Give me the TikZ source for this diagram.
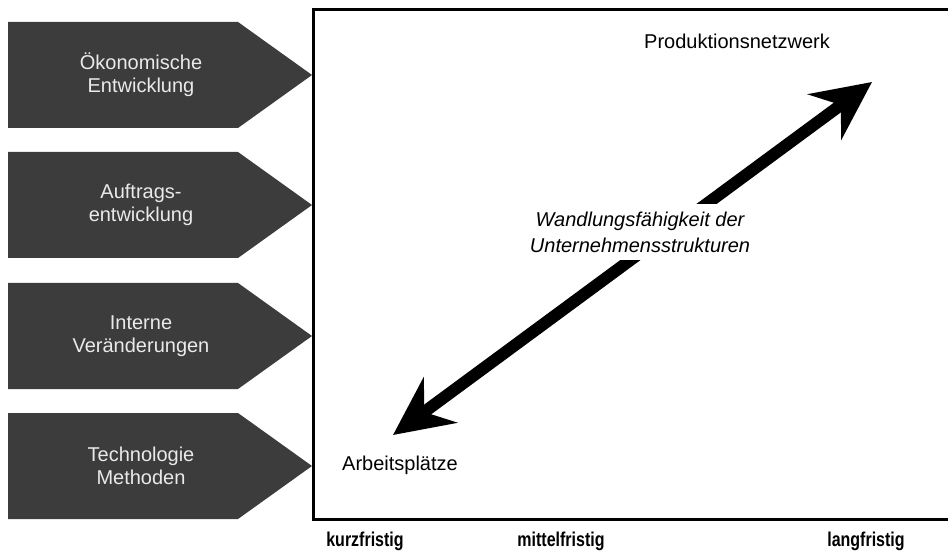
\documentclass[tikz,border=0pt]{standalone}
\usepackage{fontspec}
\setmainfont{Liberation Sans}
\usetikzlibrary{arrows.meta}
\definecolor{boxgray}{HTML}{3C3C3C}
\definecolor{boxtext}{HTML}{EAEAEA}
\tikzset{
  pentagon/.style={fill=boxgray},
  boxlabel/.style={text=boxtext, align=center, font=\fontsize{15}{17.5}\selectfont, inner sep=0pt},
  plainlabel/.style={align=center, font=\fontsize{15}{19}\selectfont, inner sep=0pt},
  timelabel/.style={font=\bfseries\fontsize{15}{17}\selectfont, inner sep=0pt},
  frameline/.style={line width=2.25pt},
  bigarrow/.style={line width=9pt, {Stealth[length=44pt, width=42pt, inset=15pt]}-{Stealth[length=44pt, width=42pt, inset=15pt]}}
}
\begin{document}
\begin{tikzpicture}[x=0.75pt, y=-0.75pt]
\useasboundingbox (0,0) rectangle (948,555);
% left pentagons
\foreach \t/\name/\txt in {22/b1/{Ökonomische\\Entwicklung}, 152/b2/{Auftrags-\\entwicklung}, 283/b3/{Interne\\Veränderungen}, 413/b4/{Technologie\\Methoden}}{
  \fill[pentagon] (8,\t) -- (238,\t) -- (312,\t+53) -- (238,\t+106) -- (8,\t+106) -- cycle;
  \node[boxlabel] (\name) at (141,\t+53) {\txt};
}
% frame
\draw[frameline] (952,10) -- (313,10) -- (313,519) -- (952,519);
% arrow
\coordinate (lo) at (393,435);
\coordinate (hi) at (872,82);
\draw[bigarrow] (lo) -- (hi);
% labels
\node[plainlabel] (prod) at (737,41) {Produktionsnetzwerk};
\node[plainlabel] (arb) at (400,465) {Arbeitsplätze};
\node[plainlabel, fill=white, inner xsep=2pt, inner ysep=6pt, font=\itshape\fontsize{15}{19.5}\selectfont] (wand) at (640,232) {Wandlungsfähigkeit der\\Unternehmensstrukturen};
% time axis labels
\node[timelabel] (kurz) at (365,541) {\scalebox{0.8}[1]{kurzfristig}};
\node[timelabel] (mittel) at (561,541) {\scalebox{0.8}[1]{mittelfristig}};
\node[timelabel] (lang) at (866,541) {\scalebox{0.8}[1]{langfristig}};
\end{tikzpicture}
\end{document}
